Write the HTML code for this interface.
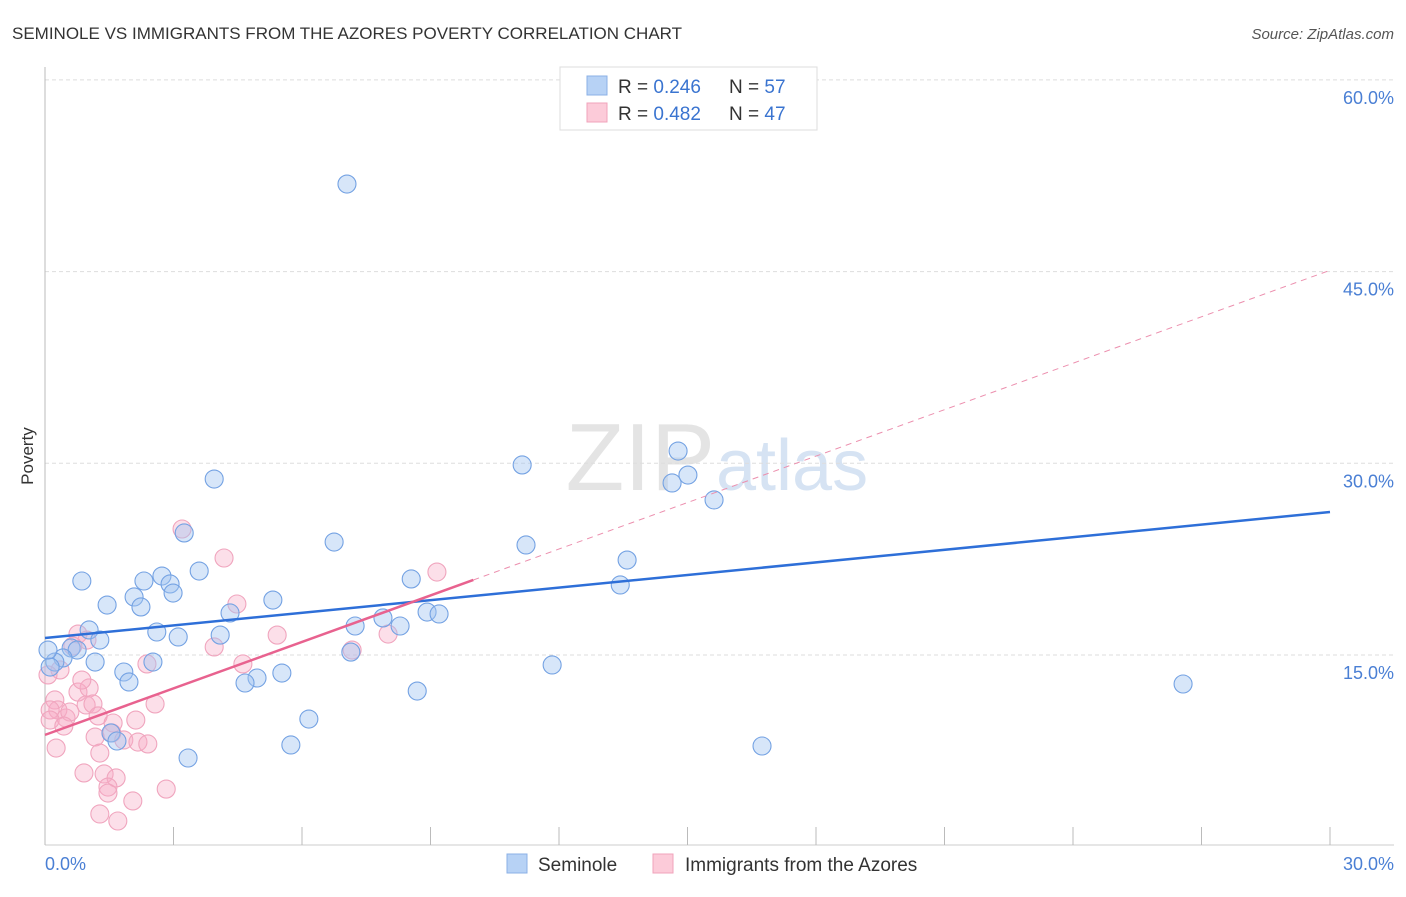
<!DOCTYPE html>
<html><head><meta charset="utf-8">
<style>
body{margin:0;background:#fff;font-family:"Liberation Sans",sans-serif;}
svg text{font-family:"Liberation Sans",sans-serif;}
</style></head><body>
<svg id="c" width="1406" height="892" viewBox="0 0 1406 892" xmlns="http://www.w3.org/2000/svg">
<text x="12" y="39" font-size="17" fill="#333">SEMINOLE VS IMMIGRANTS FROM THE AZORES POVERTY CORRELATION CHART</text>
<text x="1394" y="39" font-size="15" fill="#555" font-style="italic" text-anchor="end">Source: ZipAtlas.com</text>
<text x="715" y="490" font-size="96" font-family="Liberation Serif" fill="#e4e4e4" text-anchor="end">ZIP</text>
<text x="716" y="490" font-size="72" fill="#d6e3f3">atlas</text>
<g id="grid"></g>
<g id="axes"></g>
<g id="pts"></g>
<g id="lines"></g>
<text x="33" y="456" font-size="17" fill="#333" text-anchor="middle" transform="rotate(-90 33 456)">Poverty</text>
<text x="45" y="870" font-size="18" fill="#4a7fd4">0.0%</text>
<text x="1394" y="870" font-size="18" fill="#4a7fd4" text-anchor="end">30.0%</text>
<g>
<rect x="560" y="67" width="257" height="63" fill="#fff" stroke="#ddd"/>
<rect x="587" y="76" width="20" height="19" fill="#b7d2f5" stroke="#8bb0e6"/>
<rect x="587" y="103" width="20" height="19" fill="#fccbd9" stroke="#f0a3bb"/>
<text x="618" y="93" font-size="19" fill="#333">R = <tspan fill="#3a74d0">0.246</tspan></text>
<text x="729" y="93" font-size="19" fill="#333">N = <tspan fill="#3a74d0">57</tspan></text>
<text x="618" y="120" font-size="19" fill="#333">R = <tspan fill="#3a74d0">0.482</tspan></text>
<text x="729" y="120" font-size="19" fill="#333">N = <tspan fill="#3a74d0">47</tspan></text>
</g>
<g>
<rect x="507" y="854" width="20" height="19" fill="#b7d2f5" stroke="#8bb0e6"/>
<text x="538" y="871" font-size="19" fill="#333">Seminole</text>
<rect x="653" y="854" width="20" height="19" fill="#fccbd9" stroke="#f0a3bb"/>
<text x="685" y="871" font-size="19" fill="#333">Immigrants from the Azores</text>
</g>
</svg>
<script>
const yTicks=[15,30,45,60];
const yTickLabels=["15.0%","30.0%","45.0%","60.0%"];
const xTicks=[0,3,6,9,12,15,18,21,24,27,30];
const blueX=[7.05,3.95,11.14,14.78,14.64,15.01,15.62,6.75,11.23,13.59,13.43,8.55,3.25,0.86,3.60,2.31,2.73,2.92,2.99,2.08,2.24,1.45,5.32,4.32,7.89,8.29,8.92,9.20,7.24,4.09,2.61,3.11,1.03,1.28,0.61,0.75,0.42,0.23,0.12,1.17,2.52,1.84,1.96,7.14,5.53,4.95,4.67,11.84,8.69,6.16,26.57,1.54,1.68,5.74,3.34,16.74,0.07];
const blueY=[51.85,28.77,29.87,30.96,28.46,29.08,27.13,23.84,23.61,22.43,20.48,20.95,24.55,20.79,21.57,20.79,21.18,20.56,19.85,19.54,18.76,18.91,19.30,18.29,17.90,17.27,18.36,18.21,17.27,16.56,16.80,16.41,16.96,16.17,15.55,15.39,14.77,14.45,14.06,14.45,14.45,13.67,12.89,15.23,13.59,13.20,12.81,14.22,12.18,9.99,12.73,8.90,8.27,7.96,6.94,7.88,15.39];
const pinkX=[3.20,4.18,9.15,4.48,5.42,8.01,3.95,4.62,7.17,2.38,0.77,0.98,0.65,0.35,0.07,0.23,0.77,1.03,0.30,0.12,0.49,0.58,0.96,1.12,1.24,0.86,1.17,1.59,2.12,2.57,1.56,1.84,2.17,2.40,1.28,0.26,0.91,1.38,1.66,1.47,1.47,2.05,2.83,1.28,1.70,0.12,0.44];
const pinkY=[24.86,22.59,21.49,18.99,16.56,16.64,15.63,14.30,15.39,14.30,16.64,16.17,15.70,13.83,13.44,11.48,12.10,12.42,10.70,10.70,10.07,10.54,11.09,11.17,10.23,13.04,8.58,9.68,9.91,11.17,8.90,8.35,8.19,8.04,7.33,7.72,5.77,5.69,5.38,4.67,4.20,3.58,4.51,2.56,2.01,9.91,9.44];
const blueTrend=[16.33,26.19];
const pinkTrend=[8.75,20.87,45.1];
const pinkSolidEnd=10;
const NS="http://www.w3.org/2000/svg";
const sx=v=>45+v*(1285/30);
const sy=v=>846.7-v*12.78;
function mk(tag,attrs,parent){const e=document.createElementNS(NS,tag);for(const k in attrs)e.setAttribute(k,attrs[k]);document.getElementById(parent).appendChild(e);return e;}
yTicks.forEach((t,i)=>{
  const l=mk('line',{x1:45,x2:1394,y1:sy(t),y2:sy(t),stroke:'#ddd','stroke-dasharray':'4,3'},'grid');
  
  
  const tx=mk('text',{x:1394,y:sy(t)+24,'font-size':18,fill:'#4a7fd4','text-anchor':'end'},'grid');
  tx.textContent=yTickLabels[i];
  
  
});
const ax=mk('line',{x1:45,x2:1394,y1:845,y2:845,stroke:'#ccc'},'axes');


const ay=mk('line',{x1:45,x2:45,y1:67,y2:845,stroke:'#bbb'},'axes');


xTicks.forEach(t=>{
  const l=mk('line',{x1:sx(t),x2:sx(t),y1:827,y2:845,stroke:'#bbb'},'axes');
  
  
});
pinkX.forEach((x,i)=>{
  const c=mk('circle',{cx:sx(x),cy:sy(pinkY[i]),r:9,fill:'rgba(246,172,197,0.38)',stroke:'#f0a5be','stroke-width':1.1},'pts');
  
  
});
blueX.forEach((x,i)=>{
  const c=mk('circle',{cx:sx(x),cy:sy(blueY[i]),r:9,fill:'rgba(160,196,240,0.42)',stroke:'#74a2e3','stroke-width':1.1},'pts');
  
  
});
const bl=mk('line',{x1:sx(0),y1:sy(blueTrend[0]),x2:sx(30),y2:sy(blueTrend[1]),stroke:'#2e6fd8','stroke-width':2.5},'lines');


const pd=mk('line',{x1:sx(pinkSolidEnd),y1:sy(pinkTrend[1]),x2:sx(30),y2:sy(pinkTrend[2]),stroke:'#ec8fae','stroke-width':1,'stroke-dasharray':'6,5'},'lines');


const pl=mk('line',{x1:sx(0),y1:sy(pinkTrend[0]),x2:sx(pinkSolidEnd),y2:sy(pinkTrend[1]),stroke:'#e8628f','stroke-width':2.5},'lines');


</script>
</body></html>
